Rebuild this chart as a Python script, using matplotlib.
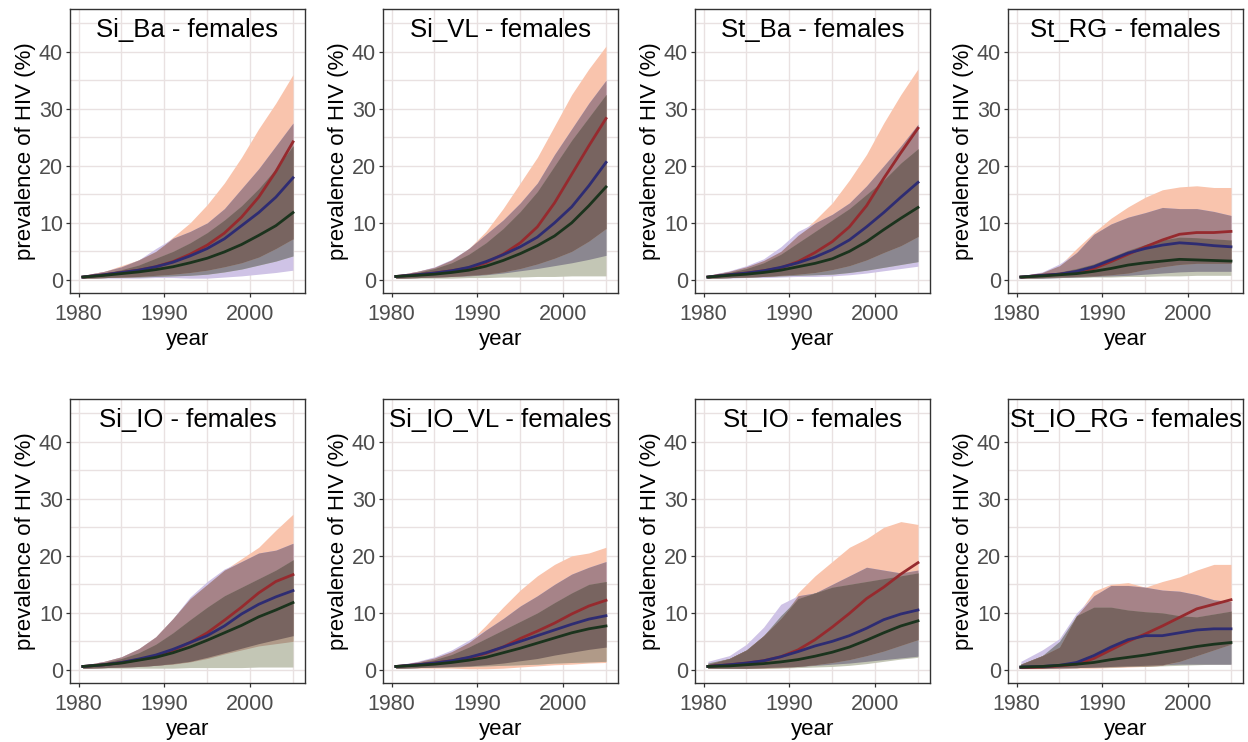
import numpy as np
import matplotlib
matplotlib.use("Agg")
import matplotlib.pyplot as plt

plt.rcParams['font.family'] = ['Liberation Sans', 'DejaVu Sans']

years = [1980.5, 1983, 1985, 1987, 1989, 1991, 1993, 1995, 1997, 1999, 2001, 2003, 2005]

titles = ["Si_Ba - females", "Si_VL - females", "St_Ba - females", "St_RG - females",
          "Si_IO - females", "Si_IO_VL - females", "St_IO - females", "St_IO_RG - females"]

# each panel: [red, blue, green] series -> median line, lower and upper band
si_ba_mid = [[0.5, 0.9, 1.3, 1.7, 2.3, 3.2, 4.5, 6.1, 8.2, 11.0, 14.5, 19.0, 24.2],
             [0.5, 0.9, 1.3, 1.7, 2.3, 3.1, 4.2, 5.5, 7.2, 9.5, 11.8, 14.5, 17.9],
             [0.5, 0.8, 1.1, 1.4, 1.8, 2.3, 3.0, 3.8, 4.9, 6.2, 7.8, 9.5, 11.8]]
si_ba_lo = [[0.3, 0.4, 0.5, 0.6, 0.8, 1.0, 1.3, 1.7, 2.3, 3.0, 4.0, 5.5, 7.2],
            [0.3, 0.3, 0.3, 0.3, 0.4, 0.4, 0.3, 0.3, 0.5, 0.7, 1.0, 1.3, 1.7],
            [0.3, 0.4, 0.5, 0.5, 0.6, 0.7, 0.8, 1.0, 1.4, 1.9, 2.6, 3.3, 4.2]]
si_ba_hi = [[0.8, 1.5, 2.5, 3.5, 5.0, 7.5, 10.0, 13.2, 17.0, 21.5, 26.5, 31.0, 36.0],
            [0.8, 1.5, 2.3, 3.5, 5.5, 7.3, 8.5, 10.0, 12.5, 16.0, 19.5, 23.5, 27.5],
            [0.7, 1.2, 1.8, 2.6, 3.8, 5.0, 6.5, 8.3, 10.5, 13.0, 16.0, 19.5, 23.5]]

si_vl_mid = [[0.6, 0.9, 1.2, 1.6, 2.1, 3.0, 4.5, 6.5, 9.3, 13.5, 18.5, 23.5, 28.3],
             [0.6, 0.9, 1.2, 1.6, 2.2, 3.2, 4.4, 5.8, 7.5, 10.0, 12.8, 16.5, 20.6],
             [0.6, 0.8, 1.0, 1.3, 1.7, 2.4, 3.4, 4.6, 6.0, 7.7, 10.0, 13.0, 16.3]]
si_vl_lo = [[0.3, 0.4, 0.5, 0.6, 0.8, 1.0, 1.4, 2.0, 2.8, 3.8, 5.0, 6.8, 9.0],
            [0.3, 0.4, 0.5, 0.6, 0.7, 0.9, 1.2, 1.6, 2.0, 2.5, 3.0, 3.6, 4.3],
            [0.3, 0.3, 0.3, 0.3, 0.4, 0.4, 0.5, 0.5, 0.6, 0.6, 0.7, 0.7, 0.7]]
si_vl_hi = [[0.8, 1.5, 2.2, 3.5, 5.5, 8.5, 12.5, 17.0, 21.5, 27.0, 32.5, 37.0, 41.0],
            [0.8, 1.5, 2.3, 3.6, 5.5, 8.0, 10.5, 13.5, 17.0, 22.0, 26.5, 31.0, 35.0],
            [0.7, 1.3, 2.0, 3.0, 4.5, 6.5, 9.0, 12.0, 15.5, 20.0, 24.5, 28.5, 32.5]]

st_ba_mid = [[0.5, 0.9, 1.2, 1.6, 2.1, 3.2, 4.8, 6.7, 9.3, 13.0, 17.8, 22.3, 26.6],
             [0.5, 0.9, 1.2, 1.6, 2.2, 3.0, 4.0, 5.3, 7.0, 9.3, 11.8, 14.5, 17.1],
             [0.5, 0.8, 1.0, 1.3, 1.7, 2.3, 2.9, 3.7, 5.0, 6.7, 8.8, 10.8, 12.7]]
st_ba_lo = [[0.3, 0.4, 0.5, 0.6, 0.8, 1.0, 1.3, 1.8, 2.5, 3.5, 4.8, 6.0, 7.6],
            [0.3, 0.3, 0.4, 0.4, 0.5, 0.6, 0.6, 0.7, 0.9, 1.2, 1.6, 2.0, 2.4],
            [0.3, 0.4, 0.5, 0.6, 0.7, 0.8, 0.9, 1.0, 1.3, 1.7, 2.2, 2.7, 3.2]]
st_ba_hi = [[0.8, 1.5, 2.3, 3.4, 5.0, 7.8, 10.5, 13.5, 17.5, 22.0, 27.5, 32.5, 37.0],
            [0.8, 1.6, 2.5, 3.7, 5.8, 8.5, 10.0, 11.5, 13.5, 16.5, 20.0, 23.5, 27.3],
            [0.7, 1.3, 2.0, 3.0, 4.5, 6.5, 8.5, 10.5, 12.5, 15.0, 17.5, 20.5, 23.0]]

st_rg_mid = [[0.5, 0.8, 1.0, 1.4, 2.0, 3.2, 4.5, 5.8, 7.0, 8.0, 8.3, 8.3, 8.5],
             [0.5, 0.8, 1.0, 1.5, 2.3, 3.5, 4.7, 5.5, 6.1, 6.5, 6.3, 6.0, 5.8],
             [0.5, 0.7, 0.9, 1.1, 1.5, 2.0, 2.6, 3.0, 3.3, 3.6, 3.5, 3.4, 3.3]]
st_rg_lo = [[0.3, 0.4, 0.5, 0.6, 0.7, 0.9, 1.2, 1.8, 2.3, 2.7, 2.9, 2.9, 2.9],
            [0.3, 0.3, 0.4, 0.5, 0.6, 0.7, 0.8, 1.0, 1.2, 1.4, 1.5, 1.5, 1.5],
            [0.3, 0.3, 0.4, 0.4, 0.5, 0.5, 0.6, 0.6, 0.7, 0.7, 0.8, 0.8, 0.8]]
st_rg_hi = [[0.7, 1.3, 2.5, 5.5, 8.3, 10.8, 12.8, 14.5, 15.8, 16.3, 16.5, 16.2, 16.2],
            [0.7, 1.4, 2.8, 4.8, 8.0, 9.8, 11.0, 11.8, 12.7, 12.5, 12.5, 12.0, 11.3],
            [0.6, 1.0, 1.4, 2.0, 2.8, 4.0, 5.2, 6.2, 7.0, 7.5, 7.4, 7.2, 7.0]]

si_io_mid = [[0.6, 0.9, 1.3, 1.8, 2.4, 3.4, 4.8, 6.5, 8.7, 11.0, 13.5, 15.5, 16.7],
             [0.6, 0.9, 1.3, 1.9, 2.6, 3.6, 4.8, 6.0, 7.7, 9.8, 11.5, 12.8, 13.9],
             [0.6, 0.9, 1.2, 1.7, 2.2, 3.0, 4.0, 5.2, 6.5, 7.8, 9.3, 10.5, 11.8]]
si_io_lo = [[0.3, 0.4, 0.5, 0.6, 0.8, 1.0, 1.4, 2.0, 2.8, 3.5, 4.2, 4.6, 5.0],
            [0.3, 0.4, 0.5, 0.6, 0.8, 1.1, 1.5, 2.2, 3.0, 3.8, 4.6, 5.3, 6.0],
            [0.3, 0.3, 0.3, 0.3, 0.3, 0.3, 0.4, 0.4, 0.4, 0.4, 0.5, 0.5, 0.5]]
si_io_hi = [[0.8, 1.5, 2.3, 3.7, 5.8, 9.0, 12.5, 15.0, 17.5, 19.5, 21.5, 24.5, 27.3],
            [0.8, 1.5, 2.3, 3.7, 5.8, 9.0, 12.8, 15.5, 17.7, 19.0, 20.5, 21.0, 22.2],
            [0.7, 1.3, 2.0, 3.0, 4.5, 6.5, 8.8, 11.0, 13.0, 14.5, 16.0, 17.5, 19.3]]

si_io_vl_mid = [[0.6, 0.9, 1.2, 1.6, 2.1, 2.9, 4.0, 5.5, 6.8, 8.2, 9.8, 11.2, 12.2],
                [0.6, 0.9, 1.2, 1.6, 2.2, 3.0, 4.0, 5.0, 6.0, 7.0, 8.0, 8.9, 9.5],
                [0.6, 0.8, 1.0, 1.3, 1.7, 2.2, 3.0, 3.8, 4.7, 5.6, 6.5, 7.2, 7.7]]
si_io_vl_lo = [[0.3, 0.3, 0.3, 0.3, 0.2, 0.2, 0.3, 0.5, 0.7, 0.9, 1.0, 1.2, 1.3],
               [0.3, 0.4, 0.5, 0.6, 0.7, 0.9, 1.2, 1.6, 2.0, 2.6, 3.1, 3.6, 4.0],
               [0.3, 0.4, 0.5, 0.5, 0.6, 0.7, 0.8, 0.9, 1.0, 1.2, 1.3, 1.4, 1.5]]
si_io_vl_hi = [[0.8, 1.4, 2.1, 3.2, 4.8, 7.8, 11.0, 14.0, 16.5, 18.5, 20.0, 20.5, 21.5],
               [0.8, 1.5, 2.3, 3.5, 5.2, 7.0, 9.0, 11.2, 13.0, 15.0, 16.8, 18.0, 19.0],
               [0.7, 1.2, 1.8, 2.7, 4.0, 5.5, 7.0, 8.5, 10.0, 11.8, 13.5, 15.0, 15.5]]

st_io_mid = [[0.6, 0.9, 1.2, 1.6, 2.3, 3.5, 5.3, 7.5, 9.9, 12.5, 14.5, 16.8, 18.8],
             [0.6, 0.9, 1.2, 1.6, 2.3, 3.2, 4.2, 5.0, 6.0, 7.3, 8.8, 9.8, 10.5],
             [0.6, 0.7, 0.9, 1.1, 1.4, 1.8, 2.4, 3.1, 4.0, 5.2, 6.5, 7.7, 8.6]]
st_io_lo = [[0.3, 0.3, 0.3, 0.3, 0.4, 0.6, 0.9, 1.3, 1.8, 2.5, 3.3, 4.3, 5.3],
            [0.3, 0.3, 0.3, 0.4, 0.5, 0.6, 0.8, 1.0, 1.2, 1.5, 1.8, 2.1, 2.4],
            [0.3, 0.3, 0.3, 0.3, 0.3, 0.4, 0.5, 0.6, 0.8, 1.1, 1.5, 1.9, 2.2]]
st_io_hi = [[1.0, 2.0, 3.5, 6.0, 9.0, 13.5, 16.5, 19.0, 21.5, 23.0, 25.0, 26.0, 25.5],
            [1.5, 2.5, 4.5, 7.5, 11.5, 13.0, 13.5, 15.0, 16.5, 18.0, 17.5, 17.0, 17.5],
            [1.2, 2.0, 3.5, 6.0, 9.5, 12.5, 13.5, 14.5, 15.0, 15.5, 16.0, 16.5, 17.0]]

st_io_rg_mid = [[0.4, 0.5, 0.7, 1.0, 2.0, 3.5, 5.0, 6.3, 7.7, 9.2, 10.7, 11.5, 12.3],
                [0.5, 0.6, 0.8, 1.3, 2.5, 4.0, 5.3, 6.0, 6.0, 6.5, 7.0, 7.2, 7.2],
                [0.5, 0.6, 0.8, 1.0, 1.3, 1.8, 2.2, 2.6, 3.1, 3.6, 4.1, 4.5, 4.8]]
st_io_rg_lo = [[0.2, 0.2, 0.2, 0.3, 0.3, 0.4, 0.5, 0.6, 0.8, 1.5, 2.5, 3.5, 4.5],
               [0.3, 0.3, 0.3, 0.4, 0.5, 0.6, 0.7, 0.8, 0.9, 1.0, 1.0, 1.0, 1.0],
               [0.3, 0.3, 0.4, 0.4, 0.5, 0.5, 0.6, 0.6, 0.7, 0.8, 0.9, 1.0, 1.0]]
st_io_rg_hi = [[1.0, 2.5, 4.0, 9.5, 13.8, 15.0, 15.3, 14.5, 15.5, 16.3, 17.5, 18.5, 18.5],
               [1.5, 3.5, 5.5, 10.0, 13.0, 14.8, 14.8, 14.5, 14.0, 13.8, 13.2, 12.3, 12.0],
               [1.0, 2.5, 5.0, 9.5, 11.0, 11.0, 10.5, 10.2, 10.0, 9.5, 9.3, 9.8, 10.3]]

mids = [si_ba_mid, si_vl_mid, st_ba_mid, st_rg_mid, si_io_mid, si_io_vl_mid, st_io_mid, st_io_rg_mid]
los = [si_ba_lo, si_vl_lo, st_ba_lo, st_rg_lo, si_io_lo, si_io_vl_lo, st_io_lo, st_io_rg_lo]
his = [si_ba_hi, si_vl_hi, st_ba_hi, st_rg_hi, si_io_hi, si_io_vl_hi, st_io_hi, st_io_rg_hi]

line_cols = ['#962a2e', '#2e2c72', '#1b331d']
single_cols = ['#f9c4ad', '#cfc3e6', '#c3c6b5']
pair_cols = {(0, 1): '#a68388', (1, 2): '#8b8790', (0, 2): '#b09a88'}
triple_col = '#786460'


def band(ax, x, lo, hi, color):
    lo = np.asarray(lo, float)
    hi = np.asarray(hi, float)
    ax.fill_between(x, lo, hi, where=hi > lo, interpolate=True,
                    color=color, lw=0, zorder=2)


fig = plt.figure(figsize=(12.48, 7.42), dpi=100)
W, H = 1248, 742
lefts = [70, 383, 695, 1008]
tops = [9, 399]

for k in range(8):
    r, c = divmod(k, 4)
    ax = fig.add_axes([lefts[c] / W, (H - tops[r] - 284) / H, 235 / W, 284 / H])
    x = np.array(years)
    lo, hi, mid = los[k], his[k], mids[k]

    for i in range(3):
        band(ax, x, lo[i], hi[i], single_cols[i])
    for (i, j), col in pair_cols.items():
        band(ax, x, np.maximum(lo[i], lo[j]), np.minimum(hi[i], hi[j]), col)
    band(ax, x, np.max(lo, axis=0), np.min(hi, axis=0), triple_col)

    for i in range(3):
        ax.plot(x, mid[i], color=line_cols[i], lw=2.0, zorder=3)

    ax.set_xlim(1979.0, 2006.4)
    ax.set_ylim(-2.3, 47.5)
    ax.set_xticks([1980, 1990, 2000])
    ax.set_xticks([1985, 1995, 2005], minor=True)
    ax.set_yticks([0, 10, 20, 30, 40])
    ax.set_yticks([5, 15, 25, 35, 45], minor=True)
    ax.grid(True, which='both', color='#e9e1e1', lw=1.0)
    ax.set_axisbelow(True)
    ax.tick_params(which='major', length=3, width=0.9, color='#333333',
                   labelsize=15.5, labelcolor='#4d4d4d', pad=2)
    ax.tick_params(axis='x', which='major', pad=5)
    ax.tick_params(which='minor', length=0)
    for s in ax.spines.values():
        s.set_color('#333333')
        s.set_linewidth(1.0)

    ax.set_xlabel('year', fontsize=16, labelpad=3)
    ax.set_ylabel('prevalence of HIV (%)', fontsize=16, labelpad=2)
    ax.text(0.5, 0.926, titles[k], transform=ax.transAxes, ha='center',
            va='center', fontsize=18.5, zorder=5)

fig.savefig('out.png', dpi=100)
